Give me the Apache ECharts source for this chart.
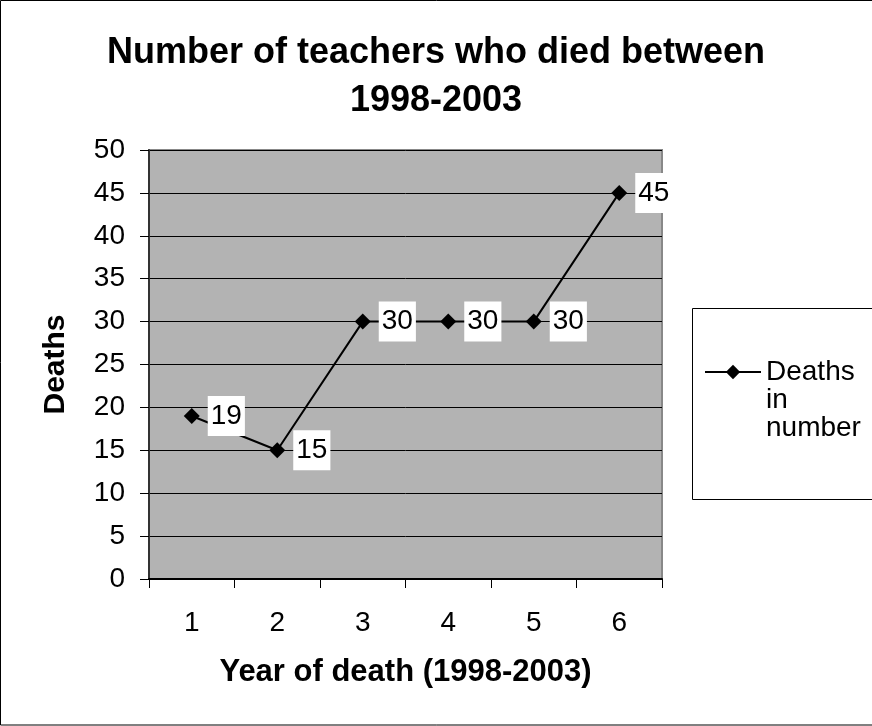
<!DOCTYPE html>
<html>
<head>
<meta charset="utf-8">
<script src="https://cdn.jsdelivr.net/npm/echarts@6/dist/echarts.min.js"></script>
<style>
  html, body { margin: 0; padding: 0; background: #fff; }
  #main { width: 872px; height: 726px; }
</style>
</head>
<body>
<div id="main"></div>
<script>
// data
var years = ['1', '2', '3', '4', '5', '6'];
var deaths = [19, 15, 30, 30, 30, 45];
var yTicks = [0, 50, 5]; // min, max, step

var font = "'Liberation Sans', Arial, sans-serif";

var chartDom = document.getElementById('main');
var myChart = echarts.init(chartDom);

var option = {
    backgroundColor: '#ffffff',
    animation: false,
    title: {
        text: 'Number of teachers who died between\n1998-2003',
        left: 'center',
        top: 24,
        textStyle: {
            fontFamily: font,
            fontSize: 36,
            fontWeight: 'bold',
            color: '#000',
            lineHeight: 48
        }
    },
    graphic: [
        // outer frame
        {
            type: 'rect',
            z: -1,
            shape: { x: 0.5, y: 0.5, width: 900, height: 724.5 },
            style: { fill: 'none', stroke: '#000', lineWidth: 1 }
        },
        // legend box
        {
            type: 'rect',
            z: 0,
            shape: { x: 692.5, y: 308.5, width: 200, height: 191 },
            style: { fill: '#fff', stroke: '#000', lineWidth: 1 }
        }
    ],
    legend: {
        left: 704,
        top: 302,
        itemWidth: 56,
        itemHeight: 18,
        itemGap: 0,
        padding: 0,
        data: ['Deaths in number'],
        // two empty lines on top keep the marker level with the first word
        formatter: function () { return '\n\nDeaths\nin\nnumber'; },
        lineStyle: { width: 2, color: '#000' },
        textStyle: {
            fontFamily: font,
            fontSize: 28,
            lineHeight: 28,
            color: '#000'
        }
    },
    grid: {
        left: 149,
        top: 150,
        right: 210,
        bottom: 147,
        show: true,
        backgroundColor: '#b3b3b3',
        borderColor: '#888888',
        borderWidth: 2
    },
    xAxis: {
        type: 'category',
        data: years,
        boundaryGap: true,
        name: 'Year of death (1998-2003)',
        nameLocation: 'middle',
        nameGap: 78,
        nameTextStyle: {
            fontFamily: font,
            fontSize: 31,
            fontWeight: 'bold',
            color: '#000'
        },
        axisLine: { lineStyle: { color: '#000', width: 2 } },
        axisTick: { show: true, length: 9, lineStyle: { color: '#000' } },
        axisLabel: {
            fontFamily: font,
            fontSize: 28,
            color: '#000',
            margin: 30
        },
        splitLine: { show: false }
    },
    yAxis: {
        type: 'value',
        min: yTicks[0],
        max: yTicks[1],
        interval: yTicks[2],
        name: 'Deaths',
        nameLocation: 'middle',
        nameRotate: 90,
        nameGap: 78,
        nameTextStyle: {
            fontFamily: font,
            fontSize: 30,
            fontWeight: 'bold',
            color: '#000'
        },
        axisLine: { show: true, lineStyle: { color: '#333', width: 2 } },
        axisTick: { show: true, length: 9, lineStyle: { color: '#000' } },
        axisLabel: {
            fontFamily: font,
            fontSize: 28,
            color: '#000',
            margin: 24
        },
        splitLine: { show: true, lineStyle: { color: '#000', width: 1 } }
    },
    series: [
        {
            name: 'Deaths in number',
            type: 'line',
            data: deaths,
            symbol: 'diamond',
            symbolSize: 16,
            showAllSymbol: true,
            itemStyle: { color: '#000' },
            lineStyle: { color: '#000', width: 2 },
            label: {
                show: true,
                position: 'right',
                distance: 8,
                fontFamily: font,
                fontSize: 28,
                lineHeight: 30,
                color: '#000',
                backgroundColor: '#fff',
                padding: [5, 3, 5, 3]
            }
        }
    ]
};

myChart.setOption(option);
</script>
</body>
</html>
